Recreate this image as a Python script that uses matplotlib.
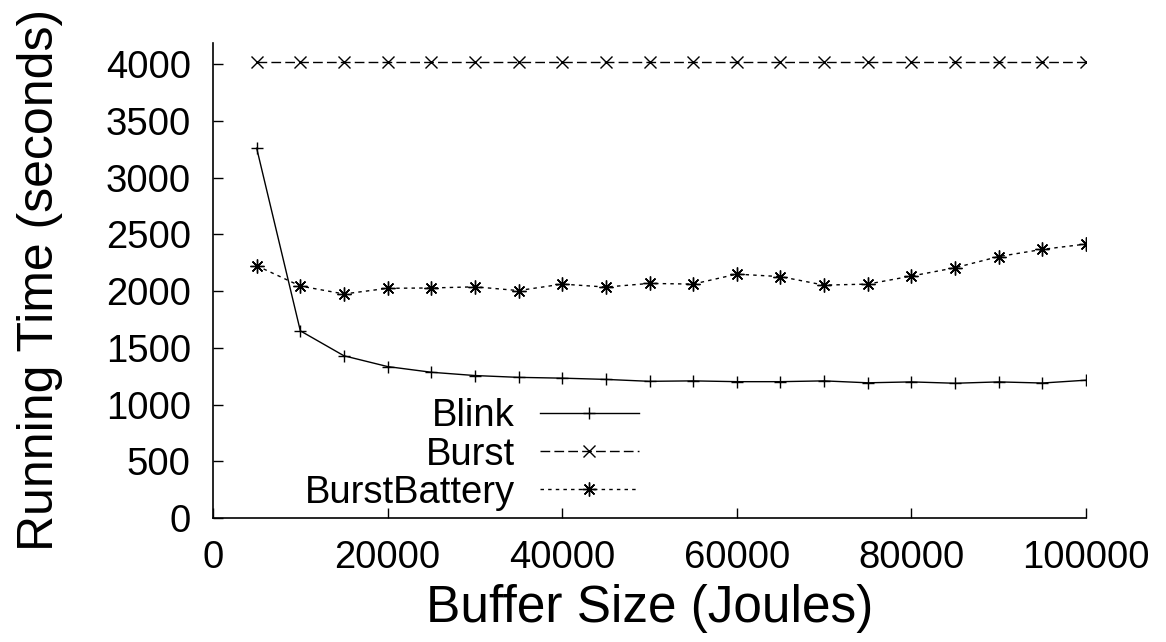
import numpy as np
import matplotlib
matplotlib.use("Agg")
import matplotlib.pyplot as plt

plt.rcParams['font.family'] = ['Liberation Sans', 'DejaVu Sans']

# buffer sizes (Joules) and running times (seconds)
buffer_size = [5000, 10000, 15000, 20000, 25000, 30000, 35000, 40000, 45000, 50000,
               55000, 60000, 65000, 70000, 75000, 80000, 85000, 90000, 95000, 100000]
blink = [3260, 1650, 1430, 1335, 1285, 1256, 1240, 1233, 1222, 1205,
         1209, 1202, 1202, 1209, 1192, 1200, 1188, 1200, 1190, 1215]
burst = [4020] * 20
burst_battery = [2224, 2045, 1975, 2025, 2028, 2038, 2005, 2062, 2036, 2068,
                 2062, 2150, 2128, 2053, 2062, 2133, 2206, 2305, 2368, 2415]

x_ticks = [0, 20000, 40000, 60000, 80000, 100000]
y_ticks = [0, 500, 1000, 1500, 2000, 2500, 3000, 3500, 4000]

fig = plt.figure(figsize=(11.66, 6.42), dpi=100)
ax = fig.add_axes([0.1827, 0.1931, 0.7487, 0.7404])

asterisk = (8, 2, 0)
ax.plot(buffer_size, blink, color='black', lw=1.0, marker='+', ms=8, mew=1.0,
        label='Blink')
ax.plot(buffer_size, burst, color='black', lw=1.0, marker='x', ms=9, mew=1.0,
        dashes=(7, 3), label='Burst')
ax.plot(buffer_size, burst_battery, color='black', lw=1.0, marker=asterisk, ms=10,
        mew=1.0, dashes=(2.5, 3), label='BurstBattery')

ax.set_xlim(0, 100000)
ax.set_ylim(0, 4190)
ax.set_xticks(x_ticks)
ax.set_yticks(y_ticks)
ax.tick_params(direction='in', length=7, width=1.0, labelsize=27.5)
ax.tick_params(axis='y', pad=16)
ax.tick_params(axis='x', pad=16)

for side in ['top', 'right']:
    ax.spines[side].set_visible(False)
for side in ['left', 'bottom']:
    ax.spines[side].set_linewidth(1.2)

ax.set_xlabel('Buffer Size (Joules)', fontsize=37)
ax.set_ylabel('Running Time (seconds)', fontsize=36)
ax.xaxis.set_label_coords(0.5, -0.139)
ax.yaxis.set_label_coords(-0.172, 0.5)

ax.legend(loc='center right', bbox_to_anchor=(0.548, 0.292),
          bbox_transform=fig.transFigure, frameon=False, markerfirst=False,
          fontsize=27.5, handlelength=2.6, handletextpad=0.65,
          labelspacing=0.06, borderpad=0, borderaxespad=0)

fig.savefig('out.png', dpi=100)
